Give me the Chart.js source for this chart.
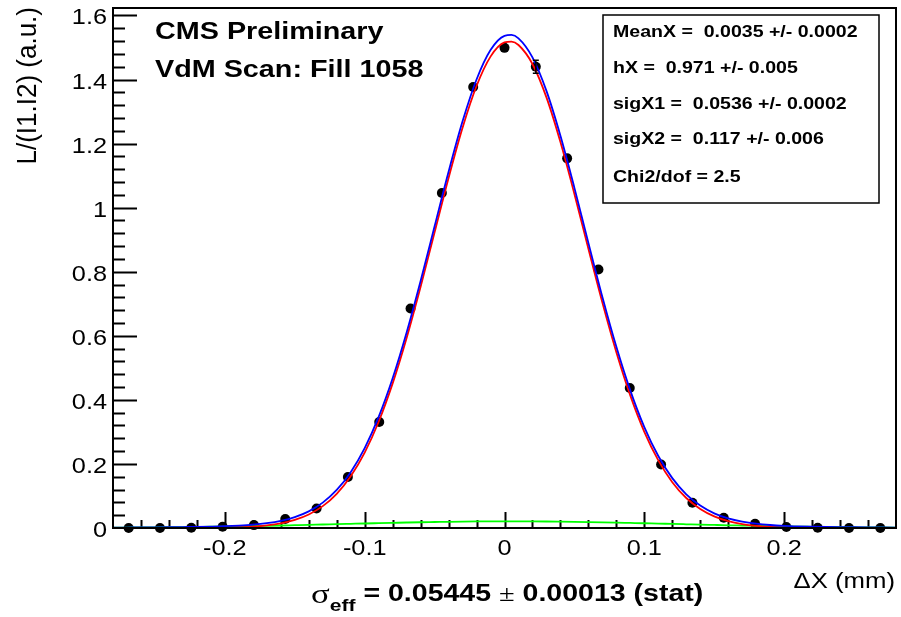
<!DOCTYPE html>
<html>
<head>
<meta charset="utf-8">
<script src="https://cdn.jsdelivr.net/npm/chart.js@4.4.1/dist/chart.umd.min.js"></script>
<style>
  html, body { margin: 0; padding: 0; background: #fff; }
  #plot { display: block; }
</style>
</head>
<body>
<canvas id="plot" width="901" height="617"></canvas>
<script>
// Pontos medidos (Delta X em mm, luminosidade normalizada)
const pointX = [-0.2688, -0.2464, -0.224, -0.2016, -0.1792, -0.1568, -0.1344, -0.112, -0.0896, -0.0672, -0.0448, -0.0224, 0,
  0.0224, 0.0448, 0.0672, 0.0896, 0.112, 0.1344, 0.1568, 0.1792, 0.2016, 0.224, 0.2464, 0.2688];
const pointY = [0, 0, 0.001, 0.004, 0.009, 0.028, 0.061, 0.159, 0.331, 0.685, 1.046, 1.377, 1.499,
  1.440, 1.154, 0.807, 0.437, 0.198, 0.079, 0.032, 0.013, 0.003, 0.001, 0, 0];
const pointErr = [0.0005, 0.0005, 0.0005, 0.0005, 0.001, 0.001, 0.002, 0.003, 0.004, 0.006, 0.008, 0.009, 0.010,
  0.020, 0.008, 0.007, 0.005, 0.003, 0.002, 0.001, 0.001, 0.0005, 0.0005, 0.0005, 0.0005];

// Curvas do ajuste
const curveX = [-0.28, -0.27, -0.26, -0.25, -0.24, -0.23, -0.22, -0.21, -0.20, -0.19, -0.18, -0.17, -0.16, -0.15,
  -0.14, -0.13, -0.12, -0.11, -0.10, -0.09, -0.08, -0.07, -0.06, -0.05, -0.04, -0.03, -0.02, -0.01, 0, 0.005,
  0.01, 0.02, 0.03, 0.04, 0.05, 0.06, 0.07, 0.08, 0.09, 0.10, 0.11, 0.12, 0.13, 0.14, 0.15, 0.16, 0.17, 0.18,
  0.19, 0.20, 0.21, 0.22, 0.23, 0.24, 0.25, 0.26, 0.27, 0.28];
const fitTotal = [0.0011, 0.0014, 0.0017, 0.0020, 0.0024, 0.0030, 0.0036, 0.0045, 0.0057, 0.0076, 0.0104, 0.0150,
  0.0223, 0.0340, 0.0520, 0.0792, 0.1187, 0.1744, 0.2495, 0.3469, 0.4675, 0.6104, 0.7711, 0.9418, 1.1122, 1.2695,
  1.4002, 1.4923, 1.5366, 1.5392, 1.5287, 1.4693, 1.3646, 1.2245, 1.0619, 0.8901, 0.7213, 0.5655, 0.4290, 0.3152,
  0.2247, 0.1558, 0.1053, 0.0699, 0.0458, 0.0299, 0.0198, 0.0134, 0.0094, 0.0069, 0.0053, 0.0042, 0.0034, 0.0028,
  0.0023, 0.0019, 0.0016, 0.0013];
const fitNarrow = [0, 0, 0, 0, 0.0001, 0.0001, 0.0003, 0.0005, 0.0011, 0.0023, 0.0043, 0.0081, 0.0145, 0.0252,
  0.0422, 0.0683, 0.1068, 0.1614, 0.2354, 0.3318, 0.4514, 0.5933, 0.7531, 0.9231, 1.0928, 1.2495, 1.3798, 1.4716,
  1.5158, 1.5184, 1.5079, 1.4487, 1.3443, 1.2047, 1.0427, 0.8716, 0.7036, 0.5487, 0.4132, 0.3004, 0.2110, 0.1431,
  0.0937, 0.0594, 0.0363, 0.0214, 0.0122, 0.0067, 0.0036, 0.0018, 0.0009, 0.0004, 0.0002, 0.0001, 0, 0, 0, 0];
const fitWide = [0.0011, 0.0014, 0.0017, 0.0020, 0.0024, 0.0028, 0.0034, 0.0039, 0.0046, 0.0053, 0.0061, 0.0069,
  0.0078, 0.0088, 0.0098, 0.0109, 0.0119, 0.0130, 0.0141, 0.0151, 0.0161, 0.0171, 0.0180, 0.0187, 0.0194, 0.0200,
  0.0204, 0.0207, 0.0208, 0.0208, 0.0208, 0.0206, 0.0203, 0.0198, 0.0192, 0.0185, 0.0177, 0.0168, 0.0158, 0.0148,
  0.0137, 0.0127, 0.0116, 0.0105, 0.0095, 0.0085, 0.0076, 0.0067, 0.0058, 0.0051, 0.0044, 0.0038, 0.0032, 0.0027,
  0.0023, 0.0019, 0.0016, 0.0013];

// Eixos
const xTicks = [-0.2, -0.1, 0, 0.1, 0.2];
const xTickLabels = ["-0.2", "-0.1", "0", "0.1", "0.2"];
const yTicks = [0, 0.2, 0.4, 0.6, 0.8, 1, 1.2, 1.4, 1.6];
const yTickLabels = ["0", "0.2", "0.4", "0.6", "0.8", "1", "1.2", "1.4", "1.6"];

const statLines = [
  "MeanX =  0.0035 +/- 0.0002",
  "hX =  0.971 +/- 0.005",
  "sigX1 =  0.0536 +/- 0.0002",
  "sigX2 =  0.117 +/- 0.006",
  "Chi2/dof = 2.5"
];

const SANS = "'Liberation Sans', Arial, sans-serif";

// texto esticado na horizontal, como no original
function texto(ctx, s, x, y, font, align, sx) {
  ctx.save();
  ctx.font = font;
  ctx.translate(x, y);
  ctx.scale(sx, 1);
  ctx.textAlign = align;
  ctx.textBaseline = "alphabetic";
  ctx.fillStyle = "#000";
  ctx.fillText(s, 0, 0);
  ctx.restore();
}

function pares(xs, ys) {
  return xs.map((x, i) => ({ x, y: ys[i] }));
}

// Moldura, marcas e textos no estilo ROOT
const estiloRoot = {
  id: "estiloRoot",
  beforeDatasetsDraw(chart) {
    const { ctx, chartArea: a, scales } = chart;
    const sx = scales.x, sy = scales.y;
    ctx.save();
    ctx.strokeStyle = "#000";
    ctx.lineWidth = 2;
    ctx.beginPath();
    // marcas do eixo x
    for (let i = -13; i <= 13; i++) {
      const v = i * 0.02;
      const px = Math.round(sx.getPixelForValue(v)) + 0.5;
      const major = i % 5 === 0;
      ctx.moveTo(px, a.bottom);
      ctx.lineTo(px, a.bottom - (major ? 16 : 8));
    }
    // marcas do eixo y
    for (let i = 1; i <= 40; i++) {
      const v = i * 0.04;
      const py = Math.round(sy.getPixelForValue(v)) + 0.5;
      const major = i % 5 === 0;
      ctx.moveTo(a.left, py);
      ctx.lineTo(a.left + (major ? 24 : 12), py);
    }
    ctx.stroke();
    ctx.restore();
  },
  afterDatasetsDraw(chart) {
    const { ctx, chartArea: a, scales } = chart;
    const sx = scales.x, sy = scales.y;

    // barras de erro (só aparecem fora do marcador)
    ctx.save();
    ctx.strokeStyle = "#000";
    ctx.lineWidth = 1.5;
    pointX.forEach((x, i) => {
      const px = sx.getPixelForValue(x);
      const top = sy.getPixelForValue(pointY[i] + pointErr[i]);
      const bot = sy.getPixelForValue(pointY[i] - pointErr[i]);
      const cy = sy.getPixelForValue(pointY[i]);
      if (cy - top > 5) {
        ctx.beginPath();
        ctx.moveTo(px, top); ctx.lineTo(px, bot);
        ctx.moveTo(px - 3, top); ctx.lineTo(px + 3, top);
        ctx.moveTo(px - 3, bot); ctx.lineTo(px + 3, bot);
        ctx.stroke();
      }
    });
    ctx.restore();

    // moldura
    ctx.save();
    ctx.strokeStyle = "#000";
    ctx.lineWidth = 2;
    ctx.strokeRect(a.left, a.top, a.right - a.left, a.bottom - a.top);
    ctx.restore();

    // rótulos dos eixos
    const fTick = "22px " + SANS;
    xTicks.forEach((v, i) => {
      texto(ctx, xTickLabels[i], sx.getPixelForValue(v), 555, fTick, "center", 1.15);
    });
    yTicks.forEach((v, i) => {
      texto(ctx, yTickLabels[i], 107, sy.getPixelForValue(v) + 9, fTick, "right", 1.15);
    });

    // título do eixo y (girado)
    ctx.save();
    ctx.translate(36, 7);
    ctx.rotate(-Math.PI / 2);
    ctx.scale(1, 1.08);
    ctx.font = "26px " + SANS;
    ctx.textAlign = "right";
    ctx.fillStyle = "#000";
    ctx.fillText("L/(I1.I2) (a.u.)", 0, 0);
    ctx.restore();

    // título do eixo x
    texto(ctx, "\u0394X (mm)", 895, 588, "22px " + SANS, "right", 1.17);

    // textos CMS
    texto(ctx, "CMS Preliminary", 155, 39, "bold 23px " + SANS, "left", 1.25);
    texto(ctx, "VdM Scan: Fill 1058", 155, 77, "bold 23px " + SANS, "left", 1.25);

    // caixa de parâmetros
    ctx.save();
    ctx.fillStyle = "#fff";
    ctx.fillRect(603, 15, 276, 188);
    ctx.strokeStyle = "#000";
    ctx.lineWidth = 1.5;
    ctx.strokeRect(603, 15, 276, 188);
    ctx.restore();
    const baselines = [37, 73, 108.5, 144, 181.5];
    statLines.forEach((s, i) => {
      texto(ctx, s, 613, baselines[i], "bold 17px " + SANS, "left", 1.15);
    });

    // sigma efetivo embaixo
    let x = 311;
    const partes = [
      { s: "\u03c3", font: "28px 'Liberation Serif', serif", y: 603 },
      { s: "eff", font: "bold 17px " + SANS, y: 611 },
      { s: " = 0.05445 ", font: "bold 23px " + SANS, y: 601 },
      { s: "\u00b1", font: "23px 'Liberation Serif', serif", y: 601 },
      { s: " 0.00013 (stat)", font: "bold 23px " + SANS, y: 601 }
    ];
    partes.forEach(p => {
      ctx.save();
      ctx.font = p.font;
      const w = ctx.measureText(p.s).width * 1.24;
      ctx.restore();
      texto(ctx, p.s, x, p.y, p.font, "left", 1.24);
      x += w;
    });
  }
};

new Chart(document.getElementById("plot"), {
  type: "scatter",
  data: {
    datasets: [
      {
        label: "total",
        data: pares(curveX, fitTotal),
        showLine: true,
        borderColor: "#0000ff",
        borderWidth: 1.8,
        pointRadius: 0,
        cubicInterpolationMode: "monotone",
        fill: false
      },
      {
        label: "estreita",
        data: pares(curveX, fitNarrow),
        showLine: true,
        borderColor: "#ff0000",
        borderWidth: 1.8,
        pointRadius: 0,
        cubicInterpolationMode: "monotone",
        fill: false
      },
      {
        label: "larga",
        data: pares(curveX, fitWide),
        showLine: true,
        borderColor: "#00ff00",
        borderWidth: 1.8,
        pointRadius: 0,
        cubicInterpolationMode: "monotone",
        fill: false
      },
      {
        label: "dados",
        data: pares(pointX, pointY),
        showLine: false,
        pointRadius: 5,
        pointBackgroundColor: "#000",
        pointBorderColor: "#000",
        pointBorderWidth: 0,
        clip: false
      }
    ]
  },
  options: {
    responsive: false,
    animation: false,
    events: [],
    layout: { padding: { top: 8, right: 4, left: 0, bottom: 0 } },
    plugins: {
      legend: { display: false },
      tooltip: { enabled: false }
    },
    scales: {
      x: {
        type: "linear",
        min: -0.28,
        max: 0.28,
        ticks: { display: false },
        grid: { display: false, drawTicks: false },
        border: { display: false },
        afterFit(scale) { scale.height = 89; }
      },
      y: {
        type: "linear",
        min: 0,
        max: 1.6234,
        ticks: { display: false },
        grid: { display: false, drawTicks: false },
        border: { display: false },
        afterFit(scale) { scale.width = 113; }
      }
    }
  },
  plugins: [estiloRoot]
});
</script>
</body>
</html>
